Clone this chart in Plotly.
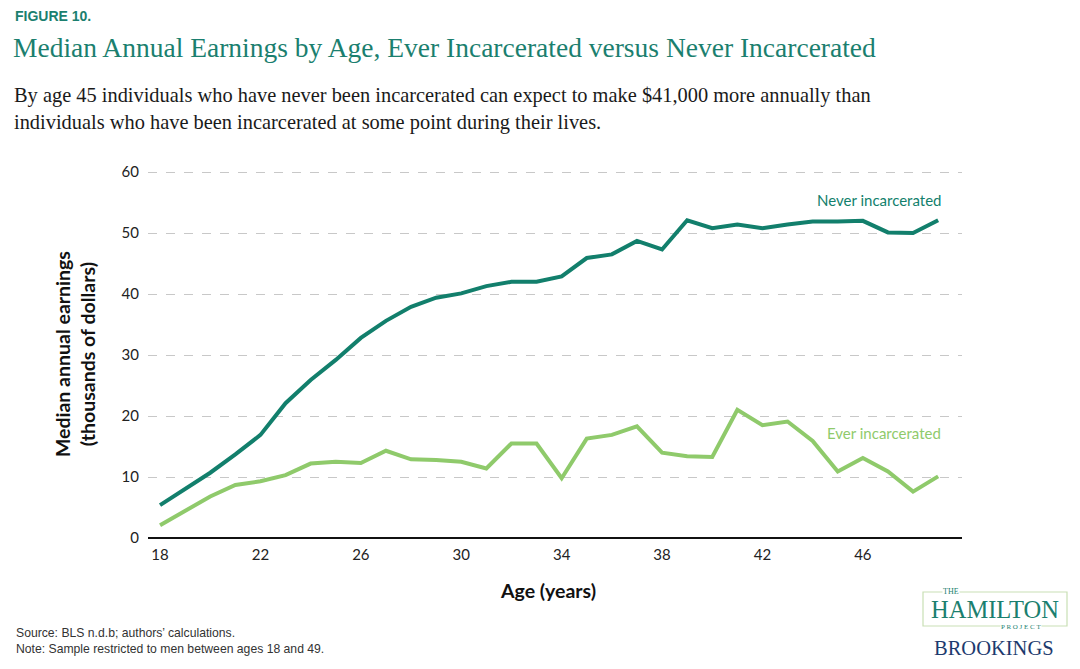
import plotly.graph_objects as go

ages = list(range(18, 50))
never_incarcerated = [5.4, 8.1, 10.7, 13.7, 16.9, 22.1, 25.9, 29.2, 32.8, 35.6, 37.9, 39.4, 40.1, 41.3, 42.0, 42.0,
                      42.9, 45.9, 46.5, 48.7, 47.3, 52.1, 50.8, 51.4, 50.8, 51.4, 51.9, 51.9, 52.0, 50.1, 50.0, 52.1]
ever_incarcerated = [2.1, 4.4, 6.8, 8.7, 9.3, 10.3, 12.2, 12.5, 12.3, 14.3, 12.9, 12.8, 12.5, 11.4, 15.5, 15.5,
                     9.8, 16.3, 16.9, 18.3, 14.0, 13.4, 13.3, 21.0, 18.5, 19.1, 15.9, 10.9, 13.1, 10.9, 7.6, 10.1]
x_ticks = [18, 22, 26, 30, 34, 38, 42, 46]
y_ticks = [0, 10, 20, 30, 40, 50, 60]

DARK = "#127f6c"
LIGHT = "#8fca6b"
TITLE_GREEN = "#1b7f6f"
SANS = "Lato, 'Open Sans', sans-serif"
SERIF = "'Liberation Serif', 'DejaVu Serif', serif"
HELV = "'Liberation Sans', Arial, sans-serif"

W, H = 1080, 669

fig = go.Figure()
fig.add_trace(go.Scatter(x=ages, y=never_incarcerated, mode="lines",
                         line=dict(color=DARK, width=4), name="Never incarcerated"))
fig.add_trace(go.Scatter(x=ages, y=ever_incarcerated, mode="lines",
                         line=dict(color=LIGHT, width=4), name="Ever incarcerated"))

fig.add_annotation(x=49, y=never_incarcerated[-1], xref="x", yref="y", text="Never incarcerated",
                   showarrow=False, xanchor="right", yanchor="bottom", yshift=9, xshift=5,
                   font=dict(family=SANS, size=15, color=DARK))
fig.add_annotation(x=49, y=ever_incarcerated[-1], xref="x", yref="y", text="Ever incarcerated",
                   showarrow=False, xanchor="right", yanchor="bottom", yshift=32, xshift=5,
                   font=dict(family=SANS, size=15, color=LIGHT))

annots = [
    dict(x=13, y=16, text="<b>FIGURE 10.</b>", font=dict(family=HELV, size=14, color=TITLE_GREEN)),
    dict(x=11, y=47, text="Median Annual Earnings by Age, Ever Incarcerated versus Never Incarcerated",
         font=dict(family=SERIF, size=27.5, color=TITLE_GREEN)),
    dict(x=12, y=96, text="By age 45 individuals who have never been incarcerated can expect to make $41,000 more annually than",
         font=dict(family=SERIF, size=20.4, color="#1a1a1a")),
    dict(x=12, y=123, text="individuals who have been incarcerated at some point during their lives.",
         font=dict(family=SERIF, size=20.4, color="#1a1a1a")),
    dict(x=14, y=633, text="Source: BLS n.d.b; authors’ calculations.",
         font=dict(family=HELV, size=12.2, color="#333333")),
    dict(x=14, y=649, text="Note: Sample restricted to men between ages 18 and 49.",
         font=dict(family=HELV, size=12.2, color="#333333")),
]
for a in annots:
    fig.add_annotation(x=a["x"] / W, y=1 - a["y"] / H, xref="paper", yref="paper", text=a["text"],
                       showarrow=False, xanchor="left", yanchor="middle", font=a["font"])

# x-axis title
fig.add_annotation(x=548 / W, y=1 - 590 / H, xref="paper", yref="paper", text="<b>Age (years)</b>",
                   showarrow=False, xanchor="center", yanchor="middle",
                   font=dict(family=SANS, size=19.5, color="#111"))

# Logo
fig.add_shape(type="rect", xref="paper", yref="paper", x0=923 / W, x1=1067 / W, y0=1 - 626 / H, y1=1 - 592 / H,
              line=dict(color="#c9dfb5", width=1.2), fillcolor="rgba(0,0,0,0)")
logo = [
    dict(x=951, y=591, text="THE", font=dict(family=SERIF, size=8, color=TITLE_GREEN), bg="white"),
    dict(x=995, y=609.5, text="HAMILTON", font=dict(family=SERIF, size=24.5, color=TITLE_GREEN), bg=None),
    dict(x=1021, y=627, text="P R O J E C T", font=dict(family=SERIF, size=7, color=TITLE_GREEN), bg="white"),
    dict(x=994, y=648, text="BROOKINGS", font=dict(family=SERIF, size=20.5, color="#1d3a6e"), bg=None),
]
for a in logo:
    fig.add_annotation(x=a["x"] / W, y=1 - a["y"] / H, xref="paper", yref="paper", text=a["text"],
                       showarrow=False, xanchor="center", yanchor="middle", font=a["font"],
                       bgcolor=a["bg"] if a["bg"] else "rgba(0,0,0,0)", borderpad=0)

y_top_px, y_bot_px = 170.2, 538
fig.update_layout(
    width=W, height=H,
    margin=dict(l=0, r=0, t=0, b=0),
    paper_bgcolor="white", plot_bgcolor="white",
    showlegend=False,
    xaxis=dict(domain=[148 / W, 962 / W], range=[17.52, 49.95], tickvals=x_ticks, showgrid=False,
               zeroline=False, showline=False, ticks="", automargin=False, ticklabelstandoff=6,
               tickfont=dict(family=SANS, size=15, color="#222")),
    yaxis=dict(domain=[1 - y_bot_px / H, 1 - y_top_px / H], range=[0, 60.3], tickvals=y_ticks, showgrid=True,
               gridcolor="#c8c8c8", griddash="dash", gridwidth=1, zeroline=True, zerolinecolor="#111",
               zerolinewidth=1.5, ticks="", ticklabelstandoff=8, automargin=False,
               tickfont=dict(family=SANS, size=15, color="#222"),
               title=dict(text="<b>Median annual earnings<br>(thousands of dollars)</b>",
                          font=dict(family=SANS, size=19.5, color="#111"), standoff=20)),
)

fig.write_html("out.html")
